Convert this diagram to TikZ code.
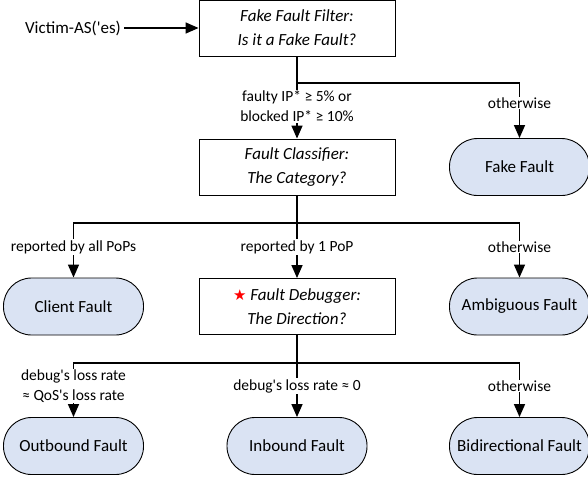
\documentclass[tikz,border=0pt]{standalone}
\usepackage{fontspec}
\setmainfont{Carlito}[Ligatures=TeXOff]
\newfontfamily\dejavu{DejaVu Sans}
\usetikzlibrary{arrows.meta}
\definecolor{termfill}{RGB}{218,227,243}
\begin{document}
\begin{tikzpicture}[x=1pt,y=-1pt,
  font=\fontsize{17}{24}\selectfont,
  proc/.style={draw, line width=0.9pt, minimum width=196pt, minimum height=56pt, inner sep=0pt, align=center, font=\fontsize{17}{24}\selectfont\itshape},
  term/.style={draw, line width=0.9pt, fill=termfill, rounded corners=28pt, minimum width=140pt, minimum height=57pt, inner sep=0pt},
  wire/.style={line width=1.5pt},
  conn/.style={line width=1.5pt, -{Triangle[width=11pt,length=13pt]}},
  lbl/.style={fill=white, inner sep=1pt, align=center, font=\fontsize{15.5}{20}\selectfont}]
\useasboundingbox (0,0) rectangle (588,480);

\node[proc] (f1) at (297,28) {Fake Fault Filter:\\Is it a Fake Fault?};
\node (victim) at (73,28) {Victim-AS('es)};
\node[proc] (f2) at (297,167) {Fault Classifier:\\The Category?};
\node[term] (fake) at (519.5,167) {Fake Fault};
\node[term] (client) at (73.5,306.5) {Client Fault};
\node[proc] (f3) at (297,306.5) {{\dejavu\fontsize{15}{15}\selectfont\color{red}★} Fault Debugger:\\The Direction?};
\node[term] (amb) at (519.5,306.5) {Ambiguous Fault};
\node[term] (out) at (73.5,446) {Outbound Fault};
\node[term] (in) at (297,446) {Inbound Fault};
\node[term] (bi) at (519.5,446) {Bidirectional Fault};

\coordinate (j1) at (297,83);
\coordinate (j2) at (297,223);
\coordinate (j3) at (297,363);

\draw[conn] (victim.east) -- (f1.west);
\draw[conn] (f1.south) -- (f2.north);
\draw[conn] (j1) -| (fake.north);

\draw[wire] (f2.south) -- (j2);
\draw[conn] (j2) -- (f3.north);
\draw[conn] (j2) -| (client.north);
\draw[conn] (j2) -| (amb.north);

\draw[wire] (f3.south) -- (j3);
\draw[conn] (j3) -- (in.north);
\draw[conn] (j3) -| (out.north);
\draw[conn] (j3) -| (bi.north);

\node[lbl] (l1) at (297,106.5) {faulty IP* ≥ 5\% or\\blocked IP* ≥ 10\%};
\node[lbl] (l2) at (519.5,103) {otherwise};
\node[lbl] (l3) at (73.5,247) {reported by all PoPs};
\node[lbl] (l4) at (297,247) {reported by 1 PoP};
\node[lbl] (l5) at (519.5,247) {otherwise};
\node[lbl] (l6) at (73.5,386) {debug's loss rate\\≈ QoS's loss rate};
\node[lbl] (l7) at (297,386) {debug's loss rate ≈ 0};
\node[lbl] (l8) at (519.5,386) {otherwise};
\end{tikzpicture}
\end{document}
